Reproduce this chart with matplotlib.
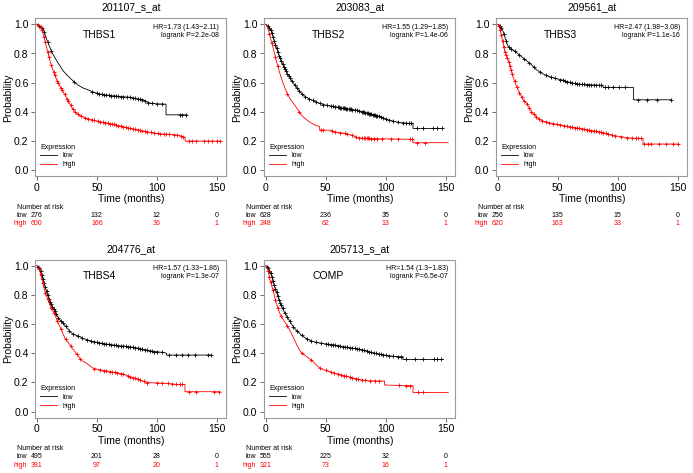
"""
Kaplan-Meier survival panels for THBS1-4 and COMP (KM plotter style).
"""

import numpy as np
import matplotlib.pyplot as plt
from matplotlib.lines import Line2D
from matplotlib.transforms import blended_transform_factory

plt.rcParams['font.family'] = ['Liberation Sans', 'DejaVu Sans']

# -----------------------------
# Data
# -----------------------------
risk_times = [0, 50, 100, 150]

# THBS1 (201107_s_at)
thbs1_low_t = [0, 2, 5.4, 8, 10.9, 13, 16.5, 22, 26, 30.4, 34, 38.7, 43, 47, 52.6, 58, 63.7,
               70, 77.6, 83, 88.7, 91, 94.3, 100, 107.6, 107.6, 125]
thbs1_low_s = [1.0, 0.99, 0.965, 0.9, 0.84, 0.8, 0.75, 0.68, 0.645, 0.61, 0.585, 0.563, 0.55,
               0.536, 0.522, 0.515, 0.51, 0.505, 0.5, 0.49, 0.483, 0.47, 0.46, 0.455, 0.453,
               0.38, 0.38]
thbs1_low_cens = [2, 4, 6, 9, 12, 31, 46, 50, 52, 54, 56, 58, 60, 62, 64, 66, 68, 70, 72, 75,
                  78, 80, 82, 84, 86, 88, 90, 93, 96, 100, 104, 119, 121, 124]
thbs1_high_t = [0, 2.6, 5.4, 8.1, 10.9, 13.7, 16.5, 19.3, 22, 24.8, 27.6, 30.4, 33.1, 35.9,
                42.9, 49.8, 56, 63.7, 70, 77.6, 85, 91.5, 98, 105.4, 112, 118, 121, 123.5,
                123.5, 153]
thbs1_high_s = [1.0, 0.99, 0.93, 0.84, 0.75, 0.68, 0.62, 0.575, 0.536, 0.494, 0.453, 0.414,
                0.39, 0.375, 0.352, 0.338, 0.327, 0.315, 0.302, 0.287, 0.275, 0.264, 0.255,
                0.248, 0.245, 0.24, 0.232, 0.225, 0.2, 0.2]
thbs1_high_cens = [1, 3, 4, 6, 7, 9, 10, 12, 14, 15, 17, 18, 20, 21, 23, 25, 26, 28, 30, 32,
                   34, 37, 40, 43, 46, 48, 51, 53, 55, 57, 59, 61, 63, 64, 66, 68, 70, 72, 74,
                   76, 78, 80, 82, 84, 86, 88, 90, 92, 95, 98, 101, 103, 106, 108, 110, 114,
                   117, 120, 122, 127, 129, 133, 139, 143, 146, 150, 153]
thbs1_risk_low = [276, 132, 12, 0]
thbs1_risk_high = [600, 166, 36, 1]

# THBS2 (203083_at)
thbs2_low_t = [0, 2, 4.6, 6.5, 8.8, 10.8, 12.9, 15.5, 18.5, 21, 24, 27, 29.6, 32, 35.2, 38.5,
               42.1, 45.5, 49, 53, 57.4, 63, 68.5, 72.5, 76.8, 81, 85, 89, 93.5, 97.5, 101.8,
               106, 110, 114, 118.5, 122.7, 122.7, 148]
thbs2_low_s = [1.0, 0.99, 0.954, 0.9, 0.84, 0.79, 0.75, 0.7, 0.655, 0.62, 0.586, 0.555, 0.529,
               0.51, 0.494, 0.48, 0.467, 0.457, 0.448, 0.442, 0.437, 0.428, 0.42, 0.415, 0.41,
               0.4, 0.39, 0.382, 0.372, 0.36, 0.345, 0.337, 0.329, 0.325, 0.322, 0.322, 0.287,
               0.287]
thbs2_low_cens = [2, 3, 4, 5, 6, 7, 8, 9, 10, 11, 12, 13, 14, 15, 16, 17, 18, 19, 20, 22, 24,
                  26, 28, 30, 33, 36, 39, 42, 45, 48, 51, 54, 56, 58, 60, 61, 62, 63, 64, 65,
                  66, 67, 68, 69, 70, 71, 72, 74, 76, 78, 80, 81, 82, 83, 84, 85, 86, 87, 88,
                  89, 90, 91, 92, 93, 94, 96, 98, 100, 103, 106, 110, 114, 117, 119, 121, 126,
                  131, 139, 143, 147]
thbs2_high_t = [0, 1.5, 3.2, 6, 8.8, 11.6, 14.3, 17.1, 19.9, 22, 24, 26.8, 29.6, 32, 35.2,
                40.7, 44.9, 44.9, 54.6, 57, 65.7, 70, 76.8, 80, 85, 122.7, 122.7, 152]
thbs2_high_s = [1.0, 0.98, 0.93, 0.84, 0.75, 0.667, 0.598, 0.54, 0.494, 0.47, 0.448, 0.414,
                0.379, 0.36, 0.338, 0.31, 0.3, 0.276, 0.274, 0.264, 0.253, 0.245, 0.223, 0.22,
                0.218, 0.212, 0.189, 0.189]
thbs2_high_cens = [3, 5, 8, 10, 18, 28, 46, 48, 55, 58, 62, 66, 68, 72, 75, 78, 80, 82, 83, 84,
                   85, 86, 88, 90, 93, 97, 104, 110, 120, 122, 126, 133]
thbs2_risk_low = [628, 236, 35, 0]
thbs2_risk_high = [248, 62, 13, 1]

# THBS3 (209561_at)
thbs3_low_t = [0, 2, 4.3, 6.5, 8.5, 11, 14, 16.5, 19.6, 24, 28, 32, 36.3, 40, 44.6, 49, 53, 57,
               61.3, 68, 75.2, 86.3, 87.7, 87.7, 113, 113, 145]
thbs3_low_s = [1.0, 0.99, 0.954, 0.9, 0.85, 0.83, 0.816, 0.8, 0.78, 0.75, 0.724, 0.69, 0.667,
               0.65, 0.637, 0.627, 0.62, 0.61, 0.598, 0.59, 0.586, 0.582, 0.582, 0.568, 0.568,
               0.483, 0.483]
thbs3_low_cens = [2, 3, 5, 7, 9, 11, 14, 18, 22, 26, 30, 35, 40, 44, 48, 52, 54, 56, 58, 60, 62,
                  64, 66, 68, 70, 72, 74, 76, 78, 80, 82, 84, 86, 89, 92, 96, 101, 106, 117,
                  124, 133, 144]
thbs3_high_t = [0, 1.5, 2.9, 5.7, 8.5, 11.3, 14, 16.8, 19.6, 21.5, 23.8, 26, 28, 30, 32, 34.5,
                37.6, 41, 44.6, 49, 53, 58, 64, 70, 75.2, 81, 86.3, 92, 97.4, 103, 108.5, 113,
                121, 121, 150]
thbs3_high_s = [1.0, 0.98, 0.93, 0.816, 0.759, 0.678, 0.609, 0.552, 0.506, 0.48, 0.46, 0.43,
                0.402, 0.385, 0.368, 0.35, 0.338, 0.33, 0.322, 0.315, 0.31, 0.3, 0.292, 0.285,
                0.276, 0.268, 0.26, 0.248, 0.237, 0.23, 0.223, 0.22, 0.218, 0.18, 0.18]
thbs3_high_cens = [1, 2, 3, 4, 5, 6, 7, 8, 9, 10, 11, 12, 14, 16, 18, 20, 22, 24, 26, 28, 30,
                   32, 34, 37, 40, 43, 46, 49, 52, 55, 58, 60, 62, 64, 66, 68, 70, 72, 74, 76,
                   78, 80, 82, 84, 86, 88, 90, 92, 95, 98, 103, 108, 112, 115, 117, 119, 122,
                   125, 128, 134, 140, 146, 150]
thbs3_risk_low = [256, 135, 15, 0]
thbs3_risk_high = [620, 163, 33, 1]

# THBS4 (204776_at)
thbs4_low_t = [0, 2, 4, 6, 8.1, 10, 12.3, 14.5, 16.5, 19, 22, 25, 29, 32, 35.9, 39, 42.9, 46,
               49.8, 56, 63.7, 70, 77.6, 84, 91.5, 98, 105.4, 108, 108, 145.6]
thbs4_low_s = [1.0, 0.985, 0.936, 0.88, 0.822, 0.77, 0.73, 0.695, 0.662, 0.63, 0.605, 0.575,
               0.537, 0.525, 0.514, 0.5, 0.49, 0.482, 0.475, 0.465, 0.457, 0.45, 0.445, 0.435,
               0.422, 0.412, 0.406, 0.4, 0.388, 0.388]
thbs4_low_cens = [1, 2, 3, 4, 5, 6, 7, 8, 9, 10, 11, 12, 13, 14, 15, 16, 18, 20, 22, 24, 27, 30,
                  34, 38, 42, 45, 48, 50, 52, 54, 56, 58, 60, 62, 64, 66, 68, 70, 72, 74, 76,
                  78, 80, 82, 84, 86, 88, 90, 92, 94, 96, 98, 100, 104, 110, 116, 121, 126,
                  132, 143, 145]
thbs4_high_t = [0, 2, 4, 6.75, 9, 10.9, 13, 15, 17, 19.2, 21.5, 23.4, 25.5, 27.6, 29.5, 31.7,
                34, 35.9, 38.5, 41.5, 44, 47, 52, 58.1, 64, 69.3, 74, 77.6, 82, 86, 91.5, 100,
                108.1, 116.5, 123.4, 123.4, 152.6]
thbs4_high_s = [1.0, 0.98, 0.913, 0.822, 0.77, 0.73, 0.695, 0.662, 0.62, 0.582, 0.54, 0.502,
                0.48, 0.457, 0.435, 0.411, 0.385, 0.365, 0.345, 0.331, 0.315, 0.297, 0.288,
                0.279, 0.27, 0.263, 0.252, 0.24, 0.228, 0.217, 0.2, 0.197, 0.194, 0.187, 0.187,
                0.137, 0.137]
thbs4_high_cens = [2, 3, 5, 7, 9, 12, 14, 17, 20, 24, 28, 33, 36, 48, 53, 56, 58, 61, 63, 65,
                   67, 70, 72, 76, 78, 80, 82, 84, 86, 89, 92, 100, 104, 109, 113, 116, 119,
                   121, 127, 133, 148, 152]
thbs4_risk_low = [495, 201, 28, 0]
thbs4_risk_high = [381, 97, 20, 1]

# COMP (205713_s_at)
comp_low_t = [0, 2, 4.6, 6.5, 8.8, 10.8, 12.9, 15.5, 18.5, 21, 24, 27, 29.6, 33, 38, 42, 46.3,
              52, 57.4, 63, 68.5, 72.5, 76.8, 82, 88, 94, 99, 104, 110, 114.3, 114.3, 148]
comp_low_s = [1.0, 0.985, 0.936, 0.88, 0.822, 0.77, 0.73, 0.68, 0.64, 0.605, 0.571, 0.545,
              0.525, 0.505, 0.484, 0.475, 0.468, 0.462, 0.457, 0.448, 0.44, 0.435, 0.43, 0.42,
              0.406, 0.395, 0.388, 0.382, 0.377, 0.377, 0.358, 0.358]
comp_low_cens = [1, 2, 3, 4, 5, 6, 7, 8, 9, 10, 11, 12, 13, 14, 16, 18, 20, 23, 26, 30, 34, 38,
                 42, 46, 50, 52, 54, 56, 58, 60, 62, 64, 66, 68, 70, 72, 74, 76, 78, 80, 82, 84,
                 86, 88, 90, 92, 94, 96, 98, 100, 103, 106, 110, 113, 117, 124, 131, 140, 143,
                 146]
comp_high_t = [0, 1.5, 3.2, 6, 8.8, 11.6, 13.5, 15.7, 17.8, 19.9, 22, 24, 26, 28.2, 30, 32.4,
               35, 38, 41, 43.5, 46, 49, 53, 57.4, 63, 68.5, 74, 79.6, 85, 93.5, 99, 99, 110,
               122.7, 122.7, 152]
comp_high_s = [1.0, 0.98, 0.913, 0.833, 0.742, 0.674, 0.645, 0.616, 0.59, 0.559, 0.525, 0.491,
               0.455, 0.422, 0.4, 0.388, 0.37, 0.354, 0.33, 0.308, 0.295, 0.285, 0.275, 0.263,
               0.252, 0.24, 0.228, 0.217, 0.212, 0.21, 0.21, 0.183, 0.18, 0.178, 0.132, 0.132]
comp_high_cens = [2, 3, 4, 6, 8, 10, 13, 18, 30, 38, 45, 50, 54, 57, 60, 63, 65, 67, 70, 72, 75,
                  77, 80, 83, 87, 91, 94, 111, 117, 120, 127, 131]
comp_risk_low = [555, 225, 32, 0]
comp_risk_high = [321, 73, 16, 1]

# -----------------------------
# Layout (pixels of the 693x473 figure)
# -----------------------------
W, H = 693, 473
PX_X = 1.2      # pixels per month
PX_Y = 146.0    # pixels per unit probability
XLIM = (-1.2, 158)
YLIM = (-0.04, 1.04)
RED = '#ff0000'

fig = plt.figure(figsize=(W / 100, H / 100), dpi=100)


def km_panel(x0, y1, probe, gene, hr, pval,
             low_t, low_s, low_c, high_t, high_s, high_c, risk_low, risk_high):
    # x0: pixel of t=0, y1: pixel of S=1.0
    left = x0 + XLIM[0] * PX_X
    top = y1 - (YLIM[1] - 1.0) * PX_Y
    w = (XLIM[1] - XLIM[0]) * PX_X
    h = (YLIM[1] - YLIM[0]) * PX_Y
    ax = fig.add_axes([left / W, 1 - (top + h) / H, w / W, h / H])

    for t, s, c, col in [(low_t, low_s, low_c, 'black'), (high_t, high_s, high_c, RED)]:
        ax.plot(t, s, color=col, lw=0.6)
        ax.plot(c, np.interp(c, t, s), ls='none', marker='+', ms=3.4, mew=0.6, color=col)

    ax.set_xlim(*XLIM)
    ax.set_ylim(*YLIM)
    ax.set_xticks([0, 50, 100, 150])
    ax.set_yticks([0.0, 0.2, 0.4, 0.6, 0.8, 1.0])
    ax.set_yticklabels(['0.0', '0.2', '0.4', '0.6', '0.8', '1.0'])
    ax.tick_params(labelsize=7.5, length=3, width=0.5, pad=2, color='#333333')
    for sp in ax.spines.values():
        sp.set_color('#9a9a9a')
        sp.set_linewidth(0.8)

    ax.text(0.5, 1.07, probe, transform=ax.transAxes, ha='center', va='center', fontsize=7.5)
    ax.text(0.5, -23 / h, 'Time (months)', transform=ax.transAxes,
            ha='center', va='center', fontsize=7.5)
    ax.text(-27.5 / w, 0.5, 'Probability', transform=ax.transAxes, rotation=90,
            ha='center', va='center', fontsize=7.5)
    ax.text(52, 0.93, gene, ha='center', va='center', fontsize=7.5)
    ax.text(152, 0.98, hr, ha='right', va='center', fontsize=5)
    ax.text(152, 0.925, pval, ha='right', va='center', fontsize=5)

    ax.legend(handles=[Line2D([], [], color='black', lw=0.6), Line2D([], [], color=RED, lw=0.6)],
              labels=['low', 'high'], title='Expression', loc='lower left', frameon=False,
              fontsize=5, title_fontsize=5, alignment='left', handlelength=2.4,
              handletextpad=0.8, labelspacing=0.25, borderaxespad=0.3,
              bbox_to_anchor=(0.0, 0.02))

    # number at risk table
    tr = blended_transform_factory(ax.transData, ax.transAxes)
    ax.text(-18.6 / w, -31.2 / h, 'Number at risk', transform=ax.transAxes,
            ha='left', va='center', fontsize=5)
    ax.text(-8.5 / w, -39.2 / h, 'low', transform=ax.transAxes,
            ha='right', va='center', fontsize=5)
    ax.text(-8.5 / w, -47.6 / h, 'high', transform=ax.transAxes,
            ha='right', va='center', fontsize=5, color=RED)
    for tt, nl, nh in zip(risk_times, risk_low, risk_high):
        ax.text(tt, -39.2 / h, str(nl), transform=tr, ha='center', va='center', fontsize=5)
        ax.text(tt, -47.6 / h, str(nh), transform=tr, ha='center', va='center',
                fontsize=5, color=RED)
    return ax


# -----------------------------
# Panels
# -----------------------------
km_panel(36.9, 24.3, '201107_s_at', 'THBS1', 'HR=1.73 (1.43\u22122.11)', 'logrank P=2.2e-08',
         thbs1_low_t, thbs1_low_s, thbs1_low_cens, thbs1_high_t, thbs1_high_s, thbs1_high_cens,
         thbs1_risk_low, thbs1_risk_high)
km_panel(265.8, 24.3, '203083_at', 'THBS2', 'HR=1.55 (1.29\u22121.85)', 'logrank P=1.4e-06',
         thbs2_low_t, thbs2_low_s, thbs2_low_cens, thbs2_high_t, thbs2_high_s, thbs2_high_cens,
         thbs2_risk_low, thbs2_risk_high)
km_panel(497.8, 24.3, '209561_at', 'THBS3', 'HR=2.47 (1.98\u22123.08)', 'logrank P=1.1e-16',
         thbs3_low_t, thbs3_low_s, thbs3_low_cens, thbs3_high_t, thbs3_high_s, thbs3_high_cens,
         thbs3_risk_low, thbs3_risk_high)
km_panel(36.9, 265.7, '204776_at', 'THBS4', 'HR=1.57 (1.33\u22121.86)', 'logrank P=1.3e-07',
         thbs4_low_t, thbs4_low_s, thbs4_low_cens, thbs4_high_t, thbs4_high_s, thbs4_high_cens,
         thbs4_risk_low, thbs4_risk_high)
km_panel(265.8, 265.7, '205713_s_at', 'COMP', 'HR=1.54 (1.3\u22121.83)', 'logrank P=6.5e-07',
         comp_low_t, comp_low_s, comp_low_cens, comp_high_t, comp_high_s, comp_high_cens,
         comp_risk_low, comp_risk_high)

fig.savefig('out.png', dpi=100)
